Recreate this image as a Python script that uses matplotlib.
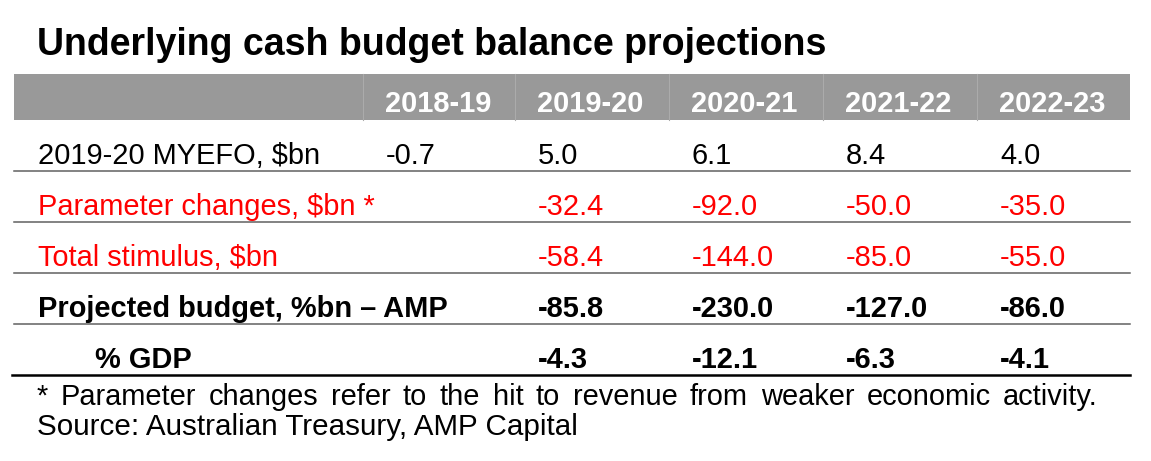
import matplotlib.pyplot as plt
from matplotlib.lines import Line2D

# data
title = 'Underlying cash budget balance projections'
years = ['2018-19', '2019-20', '2020-21', '2021-22', '2022-23']
row_labels = ['2019-20 MYEFO, $bn', 'Parameter changes, $bn *', 'Total stimulus, $bn',
              'Projected budget, %bn \u2013 AMP', '% GDP']
myefo = [-0.7, 5.0, 6.1, 8.4, 4.0]
param_changes = [None, -32.4, -92.0, -50.0, -35.0]
stimulus = [None, -58.4, -144.0, -85.0, -55.0]
projected = [None, -85.8, -230.0, -127.0, -86.0]
pct_gdp = [None, -4.3, -12.1, -6.3, -4.1]
footnote = '* Parameter changes refer to the hit to revenue from weaker economic activity.'
source = 'Source: Australian Treasury, AMP Capital'

rows = [myefo, param_changes, stimulus, projected, pct_gdp]
row_colors = ['black', '#ff0000', '#ff0000', 'black', 'black']
row_weights = ['normal', 'normal', 'normal', 'bold', 'bold']
label_x = [38, 38, 38, 38, 95]

plt.rcParams['font.family'] = ['Liberation Sans', 'DejaVu Sans']

W, H = 1151, 461
fig = plt.figure(figsize=(W / 100, H / 100), dpi=100)
ax = fig.add_axes([0, 0, 1, 1])
ax.set_xlim(0, W)
ax.set_ylim(H, 0)
ax.axis('off')

fs = 20.9
left, right = 14, 1130
col_edges = [363, 515, 669, 823, 977]
head_top, head_bot = 74, 120
row_h = 51

ax.text(37, 55, title, fontsize=27, fontweight='bold', va='baseline', ha='left')

# header band
ax.add_patch(plt.Rectangle((left, head_top), right - left, head_bot - head_top,
                           facecolor='#999999', edgecolor='none'))
for x in col_edges:
    ax.plot([x, x], [head_top, head_bot], color='#ababab', lw=0.8)
for x, yr in zip(col_edges, years):
    ax.text(x + 22, head_bot - 8, yr, color='white', fontsize=fs, fontweight='bold',
            va='baseline', ha='left')

# body rows
for i, (label, vals) in enumerate(zip(row_labels, rows)):
    line_y = head_bot + row_h * (i + 1)
    base = line_y - 7
    ax.text(label_x[i], base, label, color=row_colors[i], fontsize=fs,
            fontweight=row_weights[i], va='baseline', ha='left')
    for x, v in zip(col_edges, vals):
        if v is None:
            continue
        ax.text(x + 23, base, '{:.1f}'.format(v), color=row_colors[i], fontsize=fs,
                fontweight=row_weights[i], va='baseline', ha='left')
    if i < len(rows) - 1:
        ax.add_line(Line2D([left, right], [line_y, line_y], color='#606060', lw=1.1))
    else:
        ax.add_line(Line2D([12, right], [line_y, line_y], color='black', lw=1.8))

# justified footnote
fig.canvas.draw()
renderer = fig.canvas.get_renderer()
words = footnote.split(' ')
texts = [ax.text(0, 405, w, fontsize=fs, va='baseline', ha='left') for w in words]
widths = [t.get_window_extent(renderer=renderer).width for t in texts]
x0, x1 = 37, 1098
gap = (x1 - x0 - sum(widths)) / (len(words) - 1)
x = x0
for t, w in zip(texts, widths):
    t.set_x(x)
    x += w + gap

ax.text(37, 435, source, fontsize=21.3, va='baseline', ha='left')

fig.savefig('out.png', dpi=100)
